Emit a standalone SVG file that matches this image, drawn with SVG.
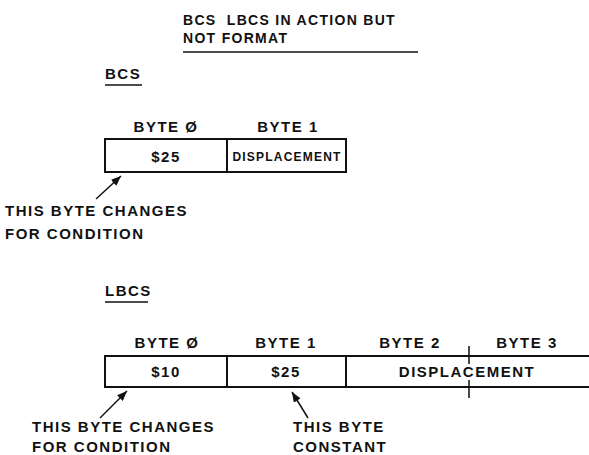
<svg xmlns="http://www.w3.org/2000/svg" width="589" height="455" viewBox="0 0 589 455">
<defs>
<style>
text{font-family:"Liberation Sans",Arial,sans-serif;font-weight:bold;font-size:15px;letter-spacing:1.5px;fill:#111;white-space:pre}
.t{font-size:14px;letter-spacing:1.3px}
.s{font-size:12px;letter-spacing:1.2px}
.m{text-anchor:middle}
.box{fill:none;stroke:#111;stroke-width:2}
.ul{stroke:#111;stroke-width:1.5}
.ar{stroke:#111;stroke-width:1.5;fill:none;marker-end:url(#ah)}
</style>
<marker id="ah" viewBox="0 0 10 8" refX="10" refY="4" markerWidth="10" markerHeight="8" markerUnits="userSpaceOnUse" orient="auto">
<path d="M0,0 L10,4 L0,8 Z" fill="#111"/>
</marker>
</defs>
<rect width="589" height="455" fill="#fff"/>
<g id="title">
<text class="t" x="183" y="25">BCS  LBCS IN ACTION BUT</text>
<text class="t" x="183" y="43">NOT FORMAT</text>
<line class="ul" x1="183" y1="52" x2="418" y2="52"/>
</g>
<g id="bcs">
<text x="105" y="79">BCS</text>
<line class="ul" x1="105" y1="85" x2="142" y2="85"/>
<text class="m" x="166" y="132">BYTE Ø</text>
<text class="m" x="288" y="132">BYTE 1</text>
<rect class="box" x="105" y="139" width="241" height="33"/>
<line class="box" x1="227" y1="139" x2="227" y2="172"/>
<text class="m" x="166" y="162">$25</text>
<text class="s m" x="287" y="161">DISPLACEMENT</text>
<text x="5" y="216">THIS BYTE CHANGES</text>
<text x="5" y="239">FOR CONDITION</text>
</g>
<g id="lbcs">
<text x="105" y="296">LBCS</text>
<line class="ul" x1="105" y1="302" x2="148" y2="302"/>
<text class="m" x="167" y="348">BYTE Ø</text>
<text class="m" x="286" y="348">BYTE 1</text>
<text class="m" x="410" y="348">BYTE 2</text>
<text class="m" x="527" y="348">BYTE 3</text>
<path class="box" d="M589,356 H105 V387 H589 M227,356 V387 M346,356 V387"/>
<path class="box" d="M469,346 V364 M469,380 V398" style="stroke-width:1.5"/>
<text class="m" x="166" y="377">$10</text>
<text class="m" x="286" y="377">$25</text>
<text class="m" x="467" y="377">DISPLACEMENT</text>
<text x="32" y="432">THIS BYTE CHANGES</text>
<text x="32" y="452">FOR CONDITION</text>
<text x="293" y="432">THIS BYTE</text>
<text x="293" y="452">CONSTANT</text>
</g>
<g id="connectors">
<line class="ar" x1="96" y1="199" x2="121" y2="176"/>
<line class="ar" x1="100" y1="418" x2="127" y2="391"/>
<line class="ar" x1="308" y1="418" x2="292" y2="392"/>
</g>
</svg>
